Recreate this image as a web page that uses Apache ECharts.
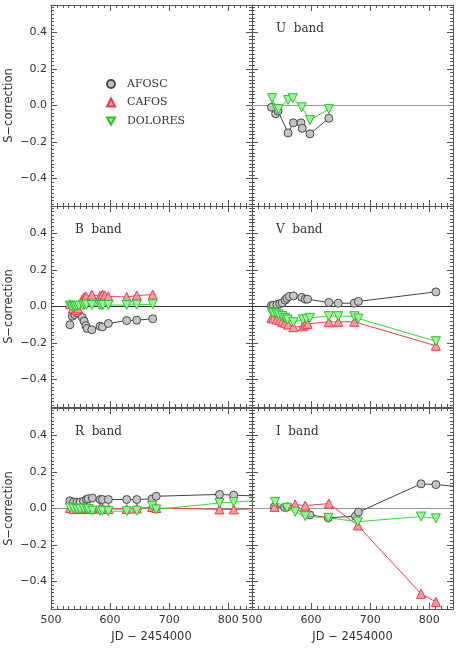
<!DOCTYPE html>
<html>
<head>
<meta charset="utf-8">
<script src="https://cdn.jsdelivr.net/npm/echarts@6/dist/echarts.min.js"></script>
<style>
  html, body { margin: 0; padding: 0; background: #fff; }
  #chart { width: 458px; height: 649px; }
</style>
</head>
<body>
<div id="chart"></div>
<script>
  // S-correction vs JD - 2454000, per band and instrument
  var uAfosc = [[533, -0.01], [540, -0.045], [544, -0.03], [561, -0.15], [570, -0.095], [583, -0.095], [585, -0.125], [598, -0.155], [630, -0.07]]
  var uDolores = [[534, 0.04], [542, -0.02], [545, -0.02], [561, 0.03], [569, 0.04], [584, -0.01], [598, -0.08], [630, -0.02]]

  var bAfosc = [[532, -0.10], [536, -0.053], [540, -0.044], [544, -0.035], [553, -0.06], [556, -0.08], [559, -0.105], [561, -0.12], [569, -0.127], [583, -0.108], [587, -0.112], [597, -0.093], [628, -0.077], [645, -0.075], [672, -0.067]]
  var bCafos = [[532, 0.012], [537, -0.01], [542, -0.02], [546, -0.01], [553, 0.04], [556, 0.05], [559, 0.055], [569, 0.065], [583, 0.058], [587, 0.065], [591, 0.06], [597, 0.055], [628, 0.052], [645, 0.06], [672, 0.065]]
  var bDolores = [[532, 0.005], [535, 0.0], [538, 0.002], [541, 0.0], [544, 0.003], [547, 0.005], [554, 0.008], [557, 0.01], [560, 0.01], [569, 0.008], [582, 0.008], [585, 0.008], [588, 0.008], [597, 0.008], [628, 0.008], [645, 0.01], [672, 0.012]]

  var vAfosc = [[533, 0.005], [536, 0.007], [542, 0.01], [547, 0.015], [551, 0.02], [556, 0.035], [559, 0.045], [563, 0.055], [570, 0.058], [584, 0.05], [590, 0.04], [594, 0.04], [630, 0.022], [646, 0.018], [673, 0.018], [680, 0.028], [811, 0.08]]
  var vCafos = [[533, -0.062], [536, -0.066], [542, -0.071], [547, -0.075], [551, -0.084], [556, -0.089], [561, -0.099], [570, -0.113], [586, -0.108], [590, -0.099], [594, -0.095], [630, -0.084], [646, -0.084], [673, -0.084], [811, -0.215]]
  var vDolores = [[533, -0.031], [536, -0.035], [541, -0.038], [545, -0.044], [551, -0.053], [556, -0.062], [560, -0.071], [570, -0.086], [586, -0.071], [592, -0.067], [598, -0.062], [630, -0.053], [646, -0.053], [673, -0.053], [680, -0.066], [811, -0.19]]

  var rAfosc = [[532, 0.042], [538, 0.035], [544, 0.035], [549, 0.035], [555, 0.04], [560, 0.049], [563, 0.053], [570, 0.057], [583, 0.049], [587, 0.049], [597, 0.049], [628, 0.049], [645, 0.049], [671, 0.053], [678, 0.067], [785, 0.077], [809, 0.073], [880, 0.065]]
  var rCafos = [[532, 0.003], [538, -0.003], [544, -0.003], [549, -0.003], [555, 0.0], [560, -0.003], [563, 0.0], [570, -0.003], [583, 0.0], [587, 0.0], [597, -0.003], [628, -0.003], [645, 0.0], [671, 0.008], [678, 0.003], [785, -0.005], [809, -0.005], [880, 0.0]]
  var rDolores = [[532, 0.005], [538, 0.0], [544, -0.003], [549, -0.003], [555, 0.0], [560, 0.0], [563, -0.003], [570, -0.012], [583, -0.012], [587, -0.012], [597, -0.015], [628, -0.015], [645, -0.012], [671, 0.015], [678, -0.005], [785, 0.03], [809, 0.035], [880, 0.05]]

  var iAfosc = [[538, 0.009], [555, 0.006], [560, 0.009], [590, -0.024], [598, -0.035], [629, -0.051], [675, -0.042], [680, -0.02], [786, 0.135], [811, 0.131], [880, 0.11]]
  var iCafos = [[538, 0.009], [573, 0.022], [590, 0.016], [630, 0.027], [679, -0.093], [786, -0.467], [811, -0.511]]
  var iDolores = [[539, 0.036], [559, 0.004], [573, -0.018], [590, -0.042], [629, -0.051], [679, -0.072], [786, -0.044], [811, -0.054]]

  var xMajor = [500, 600, 700, 800]
  var yMajor = [-0.4, -0.2, 0, 0.2, 0.4]
  var xMinor = []
  for (var i = 510; i <= 840; i += 10) { if (i % 100 !== 0) xMinor.push(i) }
  var yMinor = []
  for (var k = -27; k <= 27; k++) { if (k % 10 !== 0) yMinor.push(+(k * 0.02).toFixed(2)) }

  var downTri = 'path://M0,0 L10,0 L5,9 Z'
  var frameColor = '#555'
  var labelFont = { fontFamily: 'DejaVu Sans', fontSize: 11, color: '#333' }
  var nameFont = { fontFamily: 'DejaVu Sans', fontSize: 11.5, color: '#333' }

  // panels: position, band label, zero line colour, series
  var panels = [
    { left: 51, top: 5, label: '', zero: null, data: [] },
    { left: 252, top: 5, label: 'U  band', zero: '#999', data: [['AFOSC', uAfosc], ['DOLORES', uDolores]] },
    { left: 51, top: 206, label: 'B  band', zero: '#333', data: [['AFOSC', bAfosc], ['CAFOS', bCafos], ['DOLORES', bDolores]] },
    { left: 252, top: 206, label: 'V  band', zero: '#333', data: [['AFOSC', vAfosc], ['CAFOS', vCafos], ['DOLORES', vDolores]] },
    { left: 51, top: 408, label: 'R  band', zero: '#888', data: [['AFOSC', rAfosc], ['CAFOS', rCafos], ['DOLORES', rDolores]] },
    { left: 252, top: 408, label: 'I  band', zero: '#999', data: [['AFOSC', iAfosc], ['CAFOS', iCafos], ['DOLORES', iDolores]] }
  ]

  var styles = {
    AFOSC: { symbol: 'circle', size: 8, fill: '#c4c4c4', border: '#4a4a4a', line: '#444' },
    CAFOS: { symbol: 'triangle', size: 9, fill: '#ff9aa6', border: '#f03a4a', line: '#f04050' },
    DOLORES: { symbol: downTri, size: 9, fill: '#9cf59c', border: '#30c030', line: '#3ad83a' }
  }

  var grids = [], xAxes = [], yAxes = [], series = [], graphics = []

  panels.forEach(function (p, gi) {
    grids.push({ left: p.left, top: p.top, width: 201, height: 201 })
    var isLeft = p.left < 100
    var isBottom = p.top > 400
    var base = xAxes.length

    // bottom (major + minor), top (major + minor)
    ;[['bottom', xMajor, 6, true], ['bottom', xMinor, 3, false], ['top', xMajor, 6, false], ['top', xMinor, 3, false]].forEach(function (a) {
      xAxes.push({
        gridIndex: gi, type: 'value', min: 500, max: 840, position: a[0],
        axisLine: { show: a[2] === 6, onZero: false, lineStyle: { color: frameColor, width: 1 } },
        axisTick: { show: true, inside: true, length: a[2], customValues: a[1], lineStyle: { color: frameColor } },
        axisLabel: Object.assign({ show: a[3] && isBottom, margin: 6, customValues: xMajor }, labelFont),
        splitLine: { show: false },
        name: (a[3] && isBottom) ? 'JD \u2212 2454000' : '',
        nameLocation: 'middle', nameGap: 22,
        nameTextStyle: nameFont
      })
    })
    // left (major + minor), right (major + minor)
    ;[['left', yMajor, 6, true], ['left', yMinor, 3, false], ['right', yMajor, 6, false], ['right', yMinor, 3, false]].forEach(function (a) {
      yAxes.push({
        gridIndex: gi, type: 'value', min: -0.55, max: 0.55, position: a[0],
        axisLine: { show: a[2] === 6, onZero: false, lineStyle: { color: frameColor, width: 1 } },
        axisTick: { show: true, inside: true, length: a[2], customValues: a[1], lineStyle: { color: frameColor } },
        axisLabel: Object.assign({
          show: a[3] && isLeft, margin: 4, customValues: yMajor,
          formatter: function (v) { return (v < 0 ? '\u2212' : '') + Math.abs(v).toFixed(1) }
        }, labelFont),
        splitLine: { show: false },
        name: (a[3] && isLeft) ? 'S\u2212correction' : '',
        nameLocation: 'middle', nameGap: 36,
        nameTextStyle: nameFont
      })
    })

    p.data.forEach(function (d, si) {
      var st = styles[d[0]]
      var s = {
        name: d[0], type: 'line', xAxisIndex: base, yAxisIndex: base,
        data: d[1], symbol: st.symbol, symbolSize: st.size,
        itemStyle: { color: st.fill, borderColor: st.border, borderWidth: 1 },
        lineStyle: { color: st.line, width: 1 },
        animation: false, z: 3 + si
      }
      if (si === 0 && p.zero) {
        s.markLine = {
          silent: true, symbol: 'none', label: { show: false },
          lineStyle: { color: p.zero, type: 'solid', width: 1 },
          data: [{ yAxis: 0 }], z: 1
        }
      }
      series.push(s)
    })

    if (p.label) {
      graphics.push({
        type: 'text', left: p.left + 24, top: p.top + 18,
        style: { text: p.label, font: '12px "DejaVu Serif"', fill: '#333' }
      })
    }
  })

  var chart = echarts.init(document.getElementById('chart'))
  chart.setOption({
    animation: false,
    backgroundColor: '#fff',
    grid: grids,
    xAxis: xAxes,
    yAxis: yAxes,
    legend: {
      orient: 'vertical', left: 101, top: 72, itemGap: 4.5,
      itemWidth: 8, itemHeight: 8,
      lineStyle: { width: 0, opacity: 0 },
      textStyle: { fontFamily: 'DejaVu Serif', fontSize: 11, color: '#333', lineHeight: 14, padding: [0, 0, 0, 7] },
      data: [
        { name: 'AFOSC', icon: 'circle' },
        { name: 'CAFOS', icon: 'triangle' },
        { name: 'DOLORES', icon: downTri }
      ]
    },
    graphic: graphics,
    series: series
  })
</script>
</body>
</html>
